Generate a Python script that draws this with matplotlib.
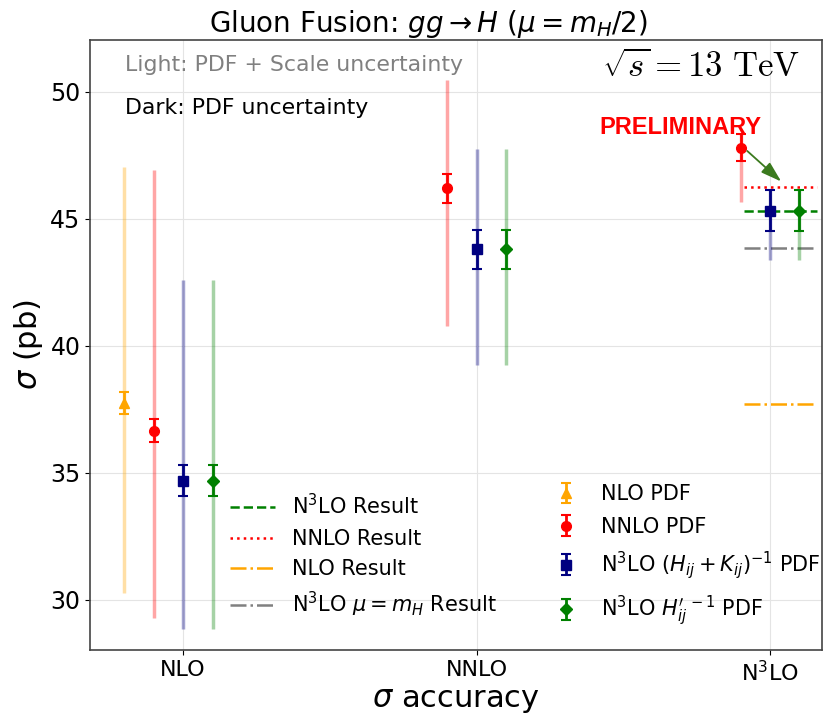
import numpy as np
import matplotlib
matplotlib.use("Agg")
import matplotlib.pyplot as plt
from matplotlib.lines import Line2D

# ------------------------------------------------------------------
# data (cross sections in pb)
# ------------------------------------------------------------------
orders = ["NLO", "NNLO", r"N$^3$LO"]
x_order = np.arange(len(orders))

# NLO PDF (only at NLO)
nlo_pdf_val = [37.74]
nlo_pdf_err = [0.43]
nlo_tot_lo = [7.48]
nlo_tot_hi = [9.31]

# NNLO PDF
nnlo_pdf_val = [36.67, 46.20, 47.80]
nnlo_pdf_err = [0.46, 0.57, 0.53]
nnlo_tot_lo = [7.39, 5.40, 2.15]
nnlo_tot_hi = [10.26, 4.27, 0.53]

# N3LO (H+K)^-1 PDF
hk_pdf_val = [34.70, 43.80, 45.33]
hk_pdf_err = [0.62, 0.78, 0.80]
hk_tot_lo = [5.85, 4.55, 1.93]
hk_tot_hi = [7.90, 3.95, 0.80]

# N3LO H'^-1 PDF
hp_pdf_val = [34.70, 43.80, 45.33]
hp_pdf_err = [0.62, 0.78, 0.80]
hp_tot_lo = [5.85, 4.55, 1.93]
hp_tot_hi = [7.90, 3.95, 0.80]

# reference result lines shown at N3LO
n3lo_result = 45.33
nnlo_result = 46.24
nlo_result = 37.70
n3lo_muH_result = 43.85

# ------------------------------------------------------------------
fig = plt.figure(figsize=(8.27, 7.17), dpi=100)
ax = fig.add_axes([0.109, 0.0934, 0.885, 0.851])

series = [
    (x_order[:1] - 0.2, nlo_pdf_val, nlo_pdf_err, nlo_tot_lo, nlo_tot_hi, "orange", "^", "NLO PDF"),
    (x_order - 0.1, nnlo_pdf_val, nnlo_pdf_err, nnlo_tot_lo, nnlo_tot_hi, "red", "o", "NNLO PDF"),
    (x_order + 0.0, hk_pdf_val, hk_pdf_err, hk_tot_lo, hk_tot_hi, "navy", "s",
     r"N$^3$LO $(H_{ij}+K_{ij})^{-1}$ PDF"),
    (x_order + 0.1, hp_pdf_val, hp_pdf_err, hp_tot_lo, hp_tot_hi, "green", "D",
     r"N$^3$LO $H_{ij}^{\prime\ -1}$ PDF"),
]

err_handles = []
for xs, val, err, lo, hi, col, mk, lab in series:
    # light: PDF + scale
    ax.errorbar(xs, val, yerr=[lo, hi], fmt="none", ecolor=col, alpha=0.35,
                elinewidth=2.5, capsize=0, zorder=2)
    # dark: PDF only
    h = ax.errorbar(xs, val, yerr=err, fmt=mk, color=col, ecolor=col,
                    elinewidth=2, capsize=3.5, capthick=1.5,
                    markersize=6 if mk == "D" else 7, zorder=3, label=lab)
    err_handles.append(h)

# result lines next to the N3LO points
x0, x1 = x_order[2] - 0.09, x_order[2] + 0.16
ax.hlines(n3lo_result, x0, x1, colors="green", linestyles="--", lw=1.8, zorder=1)
ax.hlines(nnlo_result, x0, x1, colors="red", linestyles=":", lw=1.8, zorder=1)
ax.hlines(nlo_result, x0, x1, colors="orange", linestyles="-.", lw=1.8, zorder=1)
ax.hlines(n3lo_muH_result, x0, x1, colors="gray", linestyles="-.", lw=1.8, zorder=1)

line_handles = [
    Line2D([], [], color="green", ls="--", lw=1.8),
    Line2D([], [], color="red", ls=":", lw=1.8),
    Line2D([], [], color="orange", ls="-.", lw=1.8),
    Line2D([], [], color="gray", ls="-.", lw=1.8),
]
line_labels = [r"N$^3$LO Result", "NNLO Result", "NLO Result",
               r"N$^3$LO $\mu=m_H$ Result"]

leg1 = ax.legend(line_handles, line_labels, loc="lower left",
                 bbox_to_anchor=(0.165, 0.02), frameon=False, fontsize=15,
                 handlelength=2.2, labelspacing=0.5)
ax.add_artist(leg1)
ax.legend(err_handles, [s[-1] for s in series], loc="lower left",
          bbox_to_anchor=(0.607, 0.005), frameon=False, fontsize=15,
          handlelength=1.2, handletextpad=1.1, labelspacing=0.6)

# annotations
ax.text(0.048, 0.958, "Light: PDF + Scale uncertainty", transform=ax.transAxes,
        fontsize=15.8, color="gray", ha="left", va="center")
ax.text(0.048, 0.888, "Dark: PDF uncertainty", transform=ax.transAxes,
        fontsize=15.8, color="black", ha="left", va="center")
ax.text(0.97, 0.955, r"$\sqrt{s} = 13\ \mathrm{TeV}$", transform=ax.transAxes,
        fontsize=25, ha="right", va="center", math_fontfamily="cm")
ax.text(1.693, 48.6, "PRELIMINARY", color="red", fontsize=17, fontweight="bold",
        family="Liberation Sans", ha="center", va="center", zorder=5)
ax.annotate("", xy=(2.045, 46.4), xytext=(1.915, 47.75),
            arrowprops=dict(arrowstyle="-|>,head_width=0.22,head_length=0.7",
                            color="#3b7a1e", lw=1.3, mutation_scale=18), zorder=4)

ax.set_xticks(x_order)
ax.set_xticklabels(orders, fontsize=16)
ax.set_yticks([30, 35, 40, 45, 50])
ax.tick_params(axis="y", labelsize=17)
ax.set_xlim(-0.317, 2.177)
ax.set_ylim(28.03, 52.05)
ax.grid(True, color="#e4e4e4", lw=0.8)
ax.set_axisbelow(True)
for sp in ax.spines.values():
    sp.set_color("#444444")
    sp.set_linewidth(1.2)

ax.set_xlabel(r"$\sigma$ accuracy", fontsize=22, labelpad=1)
ax.set_ylabel(r"$\sigma$ (pb)", fontsize=22)
ax.set_title(r"Gluon Fusion: $gg \rightarrow H$ ($\mu = m_H/2$)", fontsize=20,
             x=0.462)

fig.savefig("out.png", dpi=100)
